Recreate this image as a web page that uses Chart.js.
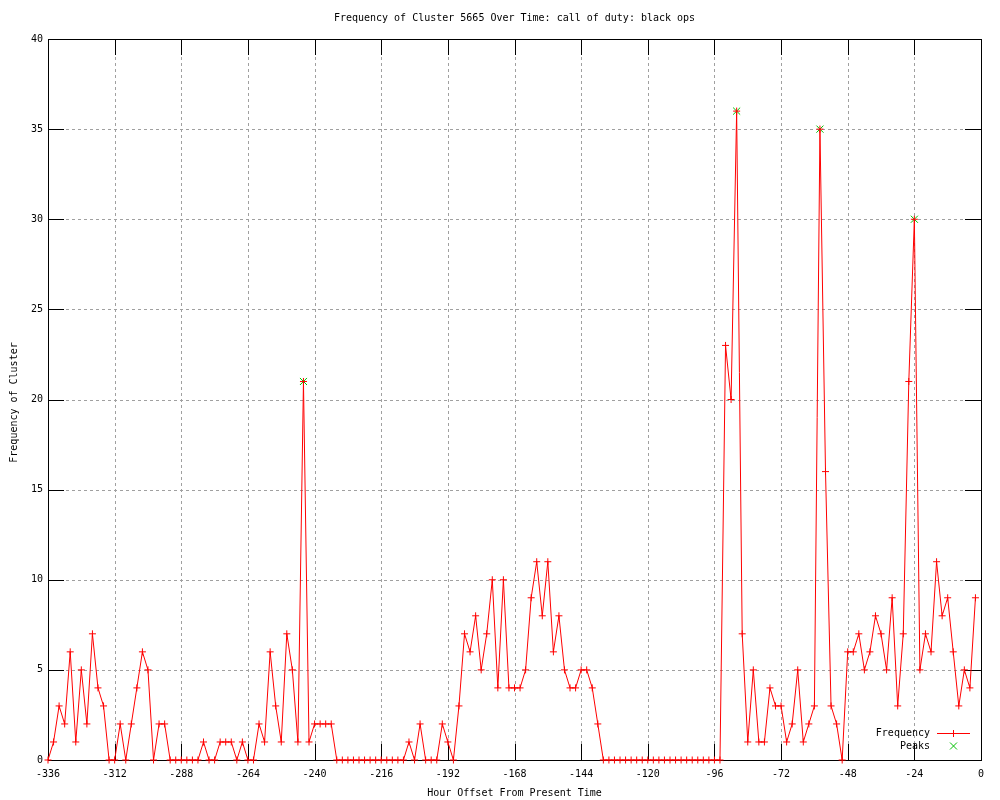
<!DOCTYPE html>
<html>
<head>
<meta charset="utf-8">
<script src="https://cdn.jsdelivr.net/npm/chart.js@4.4.0/dist/chart.umd.min.js"></script>
<style>
    html, body { margin: 0; padding: 0; background: #fff; }
</style>
</head>
<body>
<canvas id="myChart" width="1000" height="800"></canvas>
<script>
// hourly samples every 2 hours, from -336 up to -2
const hourStart = -336;
const hourStep = 2;
const frequency = [
    0, 1, 3, 2, 6, 1, 5, 2, 7, 4,
    3, 0, 0, 2, 0, 2, 4, 6, 5, 0,
    2, 2, 0, 0, 0, 0, 0, 0, 1, 0,
    0, 1, 1, 1, 0, 1, 0, 0, 2, 1,
    6, 3, 1, 7, 5, 1, 21, 1, 2, 2,
    2, 2, 0, 0, 0, 0, 0, 0, 0, 0,
    0, 0, 0, 0, 0, 1, 0, 2, 0, 0,
    0, 2, 1, 0, 3, 7, 6, 8, 5, 7,
    10, 4, 10, 4, 4, 4, 5, 9, 11, 8,
    11, 6, 8, 5, 4, 4, 5, 5, 4, 2,
    0, 0, 0, 0, 0, 0, 0, 0, 0, 0,
    0, 0, 0, 0, 0, 0, 0, 0, 0, 0,
    0, 0, 23, 20, 36, 7, 1, 5, 1, 1,
    4, 3, 3, 1, 2, 5, 1, 2, 3, 35,
    16, 3, 2, 0, 6, 6, 7, 5, 6, 8,
    7, 5, 9, 3, 7, 21, 30, 5, 7, 6,
    11, 8, 9, 6, 3, 5, 4, 9
];
const hours = frequency.map((v, i) => hourStart + i * hourStep);

const peakHours = [-244, -88, -58, -24];
const peakValues = [21, 36, 35, 30];

const xTicks = [-336, -312, -288, -264, -240, -216, -192, -168, -144, -120, -96, -72, -48, -24, 0];
const yTicks = [0, 5, 10, 15, 20, 25, 30, 35, 40];

const FONT = '10px "DejaVu Sans Mono", monospace';

const gnuplotFrame = {
    id: 'gnuplotFrame',
    beforeDatasetsDraw: (chart) => {
        const { ctx, chartArea: { top, bottom, left, right }, scales: { x, y } } = chart;
        ctx.save();
        // dotted grid
        ctx.strokeStyle = '#a0a0a0';
        ctx.lineWidth = 1;
        ctx.setLineDash([3, 3]);
        xTicks.forEach(v => {
            if (v === x.min || v === x.max) return;
            const px = Math.round(x.getPixelForValue(v)) + 0.5;
            ctx.beginPath();
            ctx.moveTo(px, top);
            ctx.lineTo(px, bottom);
            ctx.stroke();
        });
        yTicks.forEach(v => {
            if (v === y.min || v === y.max) return;
            const py = Math.round(y.getPixelForValue(v)) + 0.5;
            ctx.beginPath();
            ctx.moveTo(left, py);
            ctx.lineTo(right, py);
            ctx.stroke();
        });
        ctx.setLineDash([]);

        // frame and inward tics on all four sides
        ctx.strokeStyle = '#000';
        ctx.strokeRect(Math.round(left) + 0.5, Math.round(top) + 0.5,
            Math.round(right - left), Math.round(bottom - top));
        const tic = 16;
        ctx.beginPath();
        xTicks.forEach(v => {
            const px = Math.round(x.getPixelForValue(v)) + 0.5;
            ctx.moveTo(px, bottom);
            ctx.lineTo(px, bottom - tic);
            ctx.moveTo(px, top);
            ctx.lineTo(px, top + tic);
        });
        yTicks.forEach(v => {
            const py = Math.round(y.getPixelForValue(v)) + 0.5;
            ctx.moveTo(left, py);
            ctx.lineTo(left + tic, py);
            ctx.moveTo(right, py);
            ctx.lineTo(right - tic, py);
        });
        ctx.stroke();
        ctx.restore();
    },
    afterDraw: (chart) => {
        const { ctx, chartArea: { top, bottom, left, right } } = chart;
        const cx = (left + right) / 2;
        ctx.save();
        ctx.font = FONT;
        ctx.fillStyle = '#000';
        ctx.textBaseline = 'middle';
        ctx.textAlign = 'center';
        ctx.fillText('Frequency of Cluster 5665 Over Time: call of duty: black ops', cx, 18);
        ctx.fillText('Hour Offset From Present Time', cx, 793);

        ctx.save();
        ctx.translate(14, (top + bottom) / 2 + 3);
        ctx.rotate(-Math.PI / 2);
        ctx.fillText('Frequency of Cluster', 0, 0);
        ctx.restore();

        // key, bottom right
        ctx.textAlign = 'right';
        ctx.fillText('Frequency', 930, 733);
        ctx.fillText('Peaks', 930, 746);

        ctx.strokeStyle = '#ff0000';
        ctx.lineWidth = 1;
        ctx.beginPath();
        ctx.moveTo(937, 733.5);
        ctx.lineTo(970, 733.5);
        ctx.moveTo(953.5, 730);
        ctx.lineTo(953.5, 737);
        ctx.stroke();

        ctx.strokeStyle = '#00c000';
        ctx.beginPath();
        ctx.moveTo(950, 742.5);
        ctx.lineTo(957, 749.5);
        ctx.moveTo(957, 742.5);
        ctx.lineTo(950, 749.5);
        ctx.stroke();
        ctx.restore();
    }
};

const ctx = document.getElementById('myChart');

new Chart(ctx, {
    type: 'line',
    data: {
        datasets: [
            {
                label: 'Frequency',
                data: hours.map((h, i) => ({ x: h, y: frequency[i] })),
                borderColor: '#ff0000',
                backgroundColor: '#ff0000',
                borderWidth: 1,
                pointStyle: 'cross',
                pointRadius: 3.5,
                pointBorderWidth: 1,
                pointBorderColor: '#ff0000',
                tension: 0,
                fill: false,
                clip: false
            },
            {
                label: 'Peaks',
                data: peakHours.map((h, i) => ({ x: h, y: peakValues[i] })),
                showLine: false,
                borderColor: '#00c000',
                backgroundColor: '#00c000',
                pointStyle: 'crossRot',
                pointRadius: 5,
                pointBorderWidth: 1,
                clip: false
            }
        ]
    },
    plugins: [gnuplotFrame],
    options: {
        responsive: false,
        animation: false,
        devicePixelRatio: 1,
        layout: { padding: { top: 39, right: 19, left: 0, bottom: 0 } },
        plugins: {
            legend: { display: false },
            tooltip: { enabled: false }
        },
        scales: {
            x: {
                type: 'linear',
                min: -336,
                max: 0,
                afterBuildTicks: (scale) => { scale.ticks = xTicks.map(v => ({ value: v })); },
                afterFit: (scale) => { scale.height = 40; },
                grid: { display: false, drawTicks: false },
                border: { display: false },
                ticks: {
                    autoSkip: false,
                    maxRotation: 0,
                    padding: 8,
                    color: '#000',
                    font: { family: '"DejaVu Sans Mono", monospace', size: 10 }
                }
            },
            y: {
                min: 0,
                max: 40,
                afterBuildTicks: (scale) => { scale.ticks = yTicks.map(v => ({ value: v })); },
                afterFit: (scale) => { scale.width = 48; },
                grid: { display: false, drawTicks: false },
                border: { display: false },
                ticks: {
                    padding: 5,
                    color: '#000',
                    font: { family: '"DejaVu Sans Mono", monospace', size: 10 }
                }
            }
        }
    }
});
</script>
</body>
</html>
